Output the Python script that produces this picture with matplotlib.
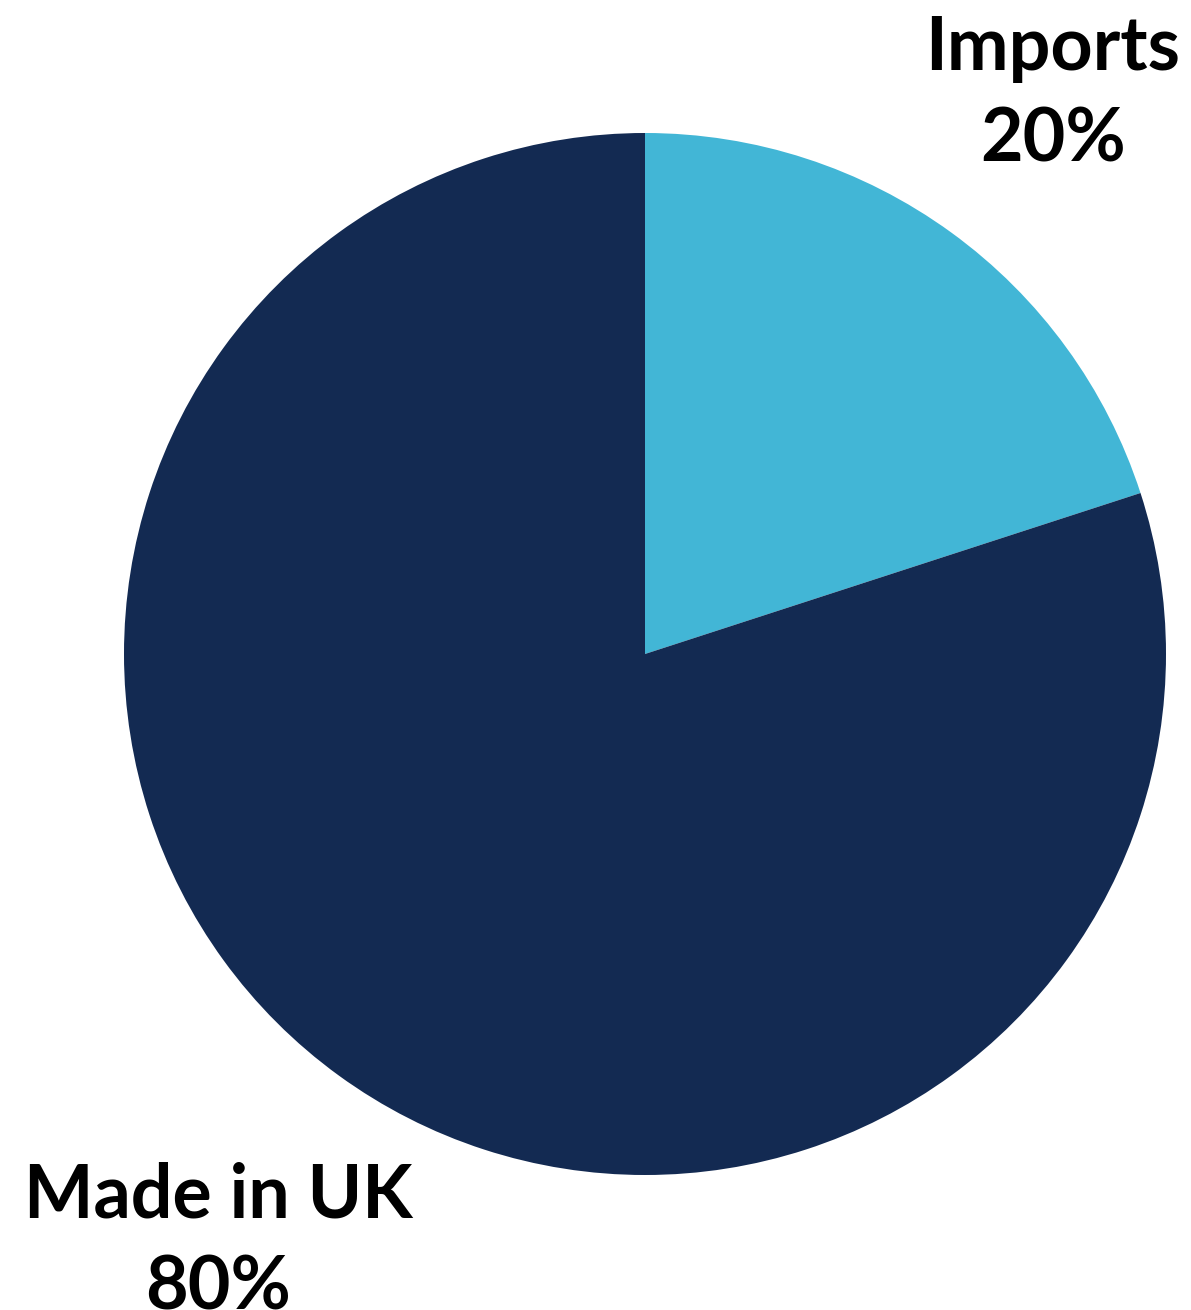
import matplotlib.pyplot as plt

labels = ['Imports', 'Made in UK']
shares = [20, 80]
colors = ['#42B6D6', '#132A52']

W, H = 1191, 1310
fig = plt.figure(figsize=(W / 100, H / 100), dpi=100)
ax = fig.add_axes([0, 0, 1, 1])

ax.pie(shares, colors=colors, startangle=90, counterclock=False,
       center=(645, H - 654), radius=521, frame=True)
ax.set_xlim(0, W)
ax.set_ylim(0, H)
ax.set_aspect('equal')
ax.axis('off')

font = dict(family='Lato', fontweight='bold', fontsize=53, color='black',
            ha='center', va='center', linespacing=1.4)
ax.text(1053, H - 94, f'{labels[0]}\n{shares[0]}%', **font)
ax.text(218, H - 1242, f'{labels[1]}\n{shares[1]}%', **font)

fig.savefig('out.png', dpi=100)
